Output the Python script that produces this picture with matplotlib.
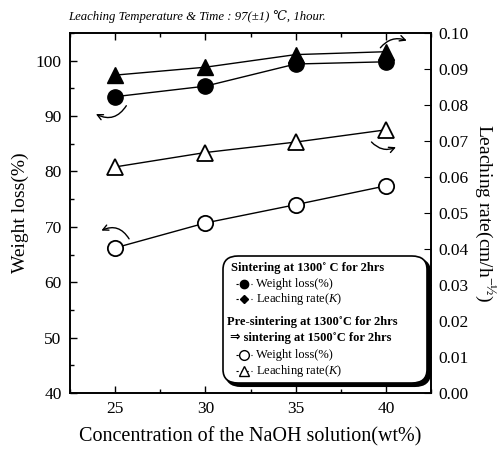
import matplotlib
matplotlib.use("Agg")
import matplotlib.pyplot as plt
from matplotlib.patches import FancyBboxPatch
from matplotlib.lines import Line2D
from matplotlib.ticker import MultipleLocator, FormatStrFormatter

plt.rcParams['font.family'] = ['Liberation Serif', 'DejaVu Serif']
plt.rcParams['mathtext.fontset'] = 'custom'
plt.rcParams['mathtext.rm'] = 'Liberation Serif'
plt.rcParams['mathtext.it'] = 'Liberation Serif:italic'

conc = [25, 30, 35, 40]
wl_sinter = [93.5, 95.4, 99.4, 99.8]
lr_sinter = [0.0883, 0.0905, 0.0940, 0.0948]
wl_pre = [66.2, 70.7, 74.0, 77.4]
lr_pre = [0.0628, 0.0668, 0.0697, 0.0731]

W, H = 504, 449
fig = plt.figure(figsize=(W / 100, H / 100), dpi=100)
ax = fig.add_axes([70 / W, 1 - 393 / H, (431 - 70) / W, (393 - 33) / H])
ax2 = ax.twinx()

ax.plot(conc, wl_sinter, '-o', color='black', mfc='black', ms=11, lw=1.0)
ax.plot(conc, wl_pre, '-o', color='black', mfc='white', ms=11, mew=1.3, lw=1.0)
ax2.plot(conc, lr_sinter, '-^', color='black', mfc='black', ms=11, lw=1.0)
ax2.plot(conc, lr_pre, '-^', color='black', mfc='white', ms=11, mew=1.3, lw=1.0)

ax.set_xlim(22.5, 42.5)
ax.set_ylim(40, 105)
ax2.set_ylim(0, 0.10)
ax.set_xticks(conc)
ax.xaxis.set_minor_locator(MultipleLocator(2.5))
ax.yaxis.set_major_locator(MultipleLocator(10))
ax.yaxis.set_minor_locator(MultipleLocator(5))
ax2.yaxis.set_major_locator(MultipleLocator(0.01))
ax2.yaxis.set_major_formatter(FormatStrFormatter('%.2f'))

ax.tick_params(which='both', direction='in', top=True, labelsize=12.5, width=1.0, pad=6)
ax.tick_params(which='major', length=5)
ax.tick_params(which='minor', length=3)
ax2.tick_params(which='both', direction='in', labelsize=12.5, length=5, pad=5)
for a in (ax, ax2):
    for s in a.spines.values():
        s.set_linewidth(1.2)

ax.set_xlabel('Concentration of the NaOH solution(wt%)', fontsize=14.5, labelpad=7)
ax.set_ylabel('Weight loss(%)', fontsize=14, labelpad=5)
ax2.set_ylabel('Leaching rate(cm/h$^{-½}$)', fontsize=14, rotation=270, labelpad=20)

fig.text(68 / W, 1 - 17 / H, 'Leaching Temperature & Time : 97(±1) ℃, 1hour.',
         fontsize=9.2, style='italic', va='center', ha='left')

# curved arrows
arr = dict(arrowstyle='->', color='black', lw=1.0, mutation_scale=10)
ax.annotate('', xy=(23.8, 90.6), xytext=(25.7, 92.3),
            arrowprops=dict(arr, connectionstyle='arc3,rad=-0.5'))
ax.annotate('', xy=(24.1, 69.1), xytext=(25.85, 67.4),
            arrowprops=dict(arr, connectionstyle='arc3,rad=0.5'))
ax2.annotate('', xy=(41.3, 0.0976), xytext=(39.6, 0.0953),
             arrowprops=dict(arr, connectionstyle='arc3,rad=-0.4'))
ax2.annotate('', xy=(40.7, 0.0686), xytext=(39.1, 0.0703),
             arrowprops=dict(arr, connectionstyle='arc3,rad=0.4'))

# legend box with shadow
bx0, by0, bx1, by1 = 223, 256, 427, 383
tf = fig.transFigure
shadow = FancyBboxPatch(((bx0 + 3) / W, 1 - (by1 + 3) / H), (bx1 - bx0) / W, (by1 - by0) / H,
                        boxstyle='round,pad=0,rounding_size=0.03', transform=tf,
                        fc='black', ec='black', lw=1.5, zorder=5)
box = FancyBboxPatch((bx0 / W, 1 - by1 / H), (bx1 - bx0) / W, (by1 - by0) / H,
                     boxstyle='round,pad=0,rounding_size=0.03', transform=tf,
                     fc='white', ec='black', lw=1.2, zorder=6)
fig.add_artist(shadow)
fig.add_artist(box)

def ftxt(x, y, s, **kw):
    fig.text(x / W, 1 - y / H, s, va='center', ha='left', zorder=7, fontsize=9, **kw)

def fmark(x, y, marker, fill, ms):
    fig.add_artist(Line2D([(x - 8) / W, (x + 8) / W], [1 - y / H, 1 - y / H],
                          color='black', lw=0.8, ls=(0, (2, 2.5)), transform=tf, zorder=7))
    fig.add_artist(Line2D([x / W], [1 - y / H], marker=marker, ms=ms, mfc=fill,
                          mec='black', color='black', transform=tf, zorder=8))

ftxt(231, 268, 'Sintering at 1300˚ C for 2hrs', fontweight='bold')
fmark(244, 284, 'o', 'black', 6)
ftxt(256, 284, 'Weight loss(%)')
fmark(244, 299, 'D', 'black', 4)
ftxt(256, 299, 'Leaching rate($\\mathit{K}$)')
ftxt(227, 322, 'Pre-sintering at 1300˚C for 2hrs', fontweight='bold')
ftxt(230, 338, '⇒ sintering at 1500˚C for 2hrs', fontweight='bold',
     family=['Liberation Serif', 'DejaVu Sans'])
fmark(244, 355, 'o', 'white', 7)
ftxt(256, 355, 'Weight loss(%)')
fmark(244, 371, '^', 'white', 7)
ftxt(256, 371, 'Leaching rate($\\mathit{K}$)')

fig.savefig('out.png', dpi=100)
